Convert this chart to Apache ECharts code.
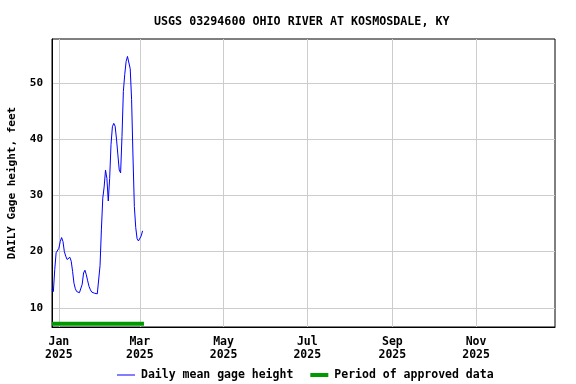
<!DOCTYPE html>
<html>
<head>
<meta charset="utf-8">
<script src="https://cdn.jsdelivr.net/npm/echarts@6/dist/echarts.min.js"></script>
<style>html,body{margin:0;padding:0;background:#fff}#chart{width:576px;height:384px}</style>
</head>
<body>
<div id="chart"></div>
<script>
// ---- Data ----
const titleText = 'USGS 03294600 OHIO RIVER AT KOSMOSDALE, KY';
const yAxisName = 'DAILY Gage height, feet';
const seriesNames = ['Daily mean gage height', 'Period of approved data'];
// first day of the daily series (Dec 27, 2024); one value per day after it
const seriesStart = [2024, 11, 27];
const gageHeight = [
  13.3, 12.9, 16.8, 19.8, 19.5,
  20.6, 21.8, 22.5, 21.8, 20.0, 19.2, 18.6, 18.5, 19.0, 18.3,
  16.5, 14.4, 13.4, 12.9, 13.2, 12.7, 12.6, 14.2, 16.2, 16.7,
  15.9, 14.8, 13.8, 13.2, 12.8, 12.7, 12.6, 12.5, 12.5, 12.3,
  17.5, 24.0, 29.5, 31.5, 34.5, 33.0, 29.0, 33.0, 39.0, 42.2,
  42.8, 42.3, 40.0, 37.2, 34.5, 34.0, 40.5, 48.5, 51.5, 53.8,
  54.7, 54.4, 52.5, 47.0, 37.0, 28.0, 24.3, 22.3, 21.9, 21.8,
  22.8, 23.7
];
const approvedPeriod = [[2024, 11, 27], [2025, 2, 4]];
const approvedLevel = 7.2;
const axisRange = [[2024, 11, 27], [2025, 11, 28, 12]];
const yRange = [6.6, 57.8];
const yTicks = [10, 20, 30, 40, 50];
const xTickDates = [[2025, 0, 1], [2025, 2, 1], [2025, 4, 1], [2025, 6, 1], [2025, 8, 1], [2025, 10, 1]];
const monthNames = ['Jan','Feb','Mar','Apr','May','Jun','Jul','Aug','Sep','Oct','Nov','Dec'];

// ---- Build ----
const t = a => new Date(a[0], a[1], a[2], a[3] || 0).getTime();
const lineData = gageHeight.map((v, i) => {
  const d = new Date(seriesStart[0], seriesStart[1], seriesStart[2] + i).getTime();
  return [d, v];
});
const approvedData = approvedPeriod.map(a => [t(a), approvedLevel]);
const xTicks = xTickDates.map(t);

const font = 'DejaVu Sans Mono';
const chart = echarts.init(document.getElementById('chart'), null, {renderer: 'canvas'});
chart.setOption({
  animation: false,
  backgroundColor: '#fff',
  title: {
    text: titleText,
    left: 154, top: 16, padding: 0,
    textStyle: {fontFamily: font, fontWeight: 'bold', fontSize: 11.7, color: '#000'}
  },
  grid: {
    left: 52, right: 21, top: 39, bottom: 57,
    outerBoundsMode: 'none', containLabel: false,
    show: true, borderColor: '#000', borderWidth: 1, backgroundColor: 'transparent'
  },
  xAxis: {
    type: 'value',
    min: t(axisRange[0]), max: t(axisRange[1]),
    axisLine: {show: true, onZero: false, lineStyle: {color: '#000', width: 1}},
    axisTick: {show: false, customValues: xTicks},
    splitLine: {show: true, lineStyle: {color: '#cccccc', width: 1}},
    axisLabel: {
      customValues: xTicks,
      margin: 9,
      fontFamily: font, fontWeight: 'bold', fontSize: 11.5, color: '#000', lineHeight: 13,
      formatter: v => { const d = new Date(v); return monthNames[d.getMonth()] + '\n' + d.getFullYear(); }
    }
  },
  yAxis: {
    type: 'value',
    min: yRange[0], max: yRange[1],
    name: yAxisName, nameLocation: 'middle', nameGap: 34, nameRotate: 90,
    nameTextStyle: {fontFamily: font, fontWeight: 'bold', fontSize: 11, color: '#000'},
    axisLine: {show: true, onZero: false, lineStyle: {color: '#000', width: 1}},
    axisTick: {show: false, customValues: yTicks},
    splitLine: {show: true, lineStyle: {color: '#cccccc', width: 1}},
    axisLabel: {
      customValues: yTicks, margin: 9,
      fontFamily: font, fontWeight: 'bold', fontSize: 11, color: '#000'
    }
  },
  legend: {
    left: 117, top: 369, padding: 0,
    itemWidth: 18, itemHeight: 8, itemGap: 17,
    textStyle: {fontFamily: font, fontWeight: 'bold', fontSize: 11.5, color: '#000', padding: [0, 0, 0, 1]},
    data: [
      {name: seriesNames[0], icon: 'path://M0,0H18V1H0Z', itemStyle: {color: '#0000ff'}},
      {name: seriesNames[1], icon: 'path://M0,0H18V4H0Z', itemStyle: {color: '#009900'}}
    ]
  },
  series: [
    {
      name: seriesNames[0], type: 'line', data: lineData,
      symbol: 'none', showSymbol: false,
      lineStyle: {color: '#0000ff', width: 1}, itemStyle: {color: '#0000ff'},
      z: 3
    },
    {
      name: seriesNames[1], type: 'line', data: approvedData,
      symbol: 'none', showSymbol: false,
      lineStyle: {color: '#009900', width: 4}, itemStyle: {color: '#009900'},
      z: 2
    }
  ]
});
</script>
</body>
</html>
